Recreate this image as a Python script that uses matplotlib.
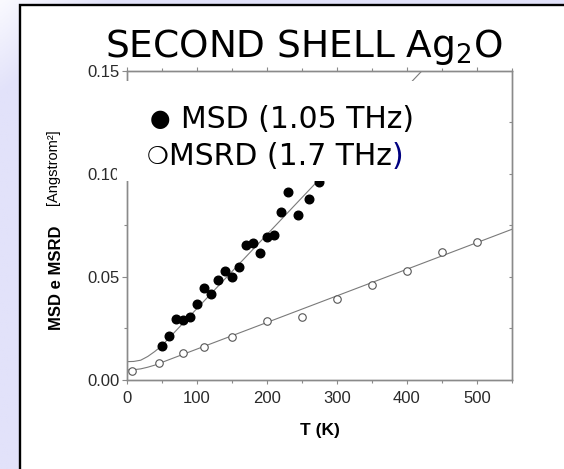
import matplotlib
matplotlib.use("Agg")
import matplotlib.pyplot as plt
import numpy as np
from matplotlib.patches import Rectangle

# ---------------- data ----------------
msd_T = [50, 60, 70, 80, 90, 100, 110, 120, 130, 140, 150, 160, 170, 180, 190,
         200, 210, 220, 230, 245, 260, 275]
msd_v = [0.0165, 0.0213, 0.0294, 0.0291, 0.0304, 0.0367, 0.0445, 0.0416, 0.0483,
         0.0530, 0.0501, 0.0549, 0.0653, 0.0663, 0.0614, 0.0692, 0.0705, 0.0813,
         0.0910, 0.0800, 0.0877, 0.0960]

msrd_T = [8, 46, 80, 110, 150, 200, 250, 300, 350, 400, 450, 500]
msrd_v = [0.0044, 0.0081, 0.0129, 0.0158, 0.0210, 0.0288, 0.0307, 0.0391,
          0.0461, 0.0529, 0.0622, 0.0671]

# fitted curves
msd_fit_T = [0, 10, 20, 30, 40, 50, 60, 430]
msd_fit_v = [0.0089, 0.0090, 0.0096, 0.0114, 0.0138, 0.0166, 0.0202, 0.1530]
msrd_fit_T = [0, 10, 20, 30, 40, 50, 60, 550]
msrd_fit_v = [0.0049, 0.0050, 0.0054, 0.0062, 0.0072, 0.0085, 0.0098, 0.0731]

xticks = [0, 100, 200, 300, 400, 500]
yticks = [0.00, 0.05, 0.10, 0.15]
ytick_labels = ["0.00", "0.05", "0.10", "0.15"]

title = "SECOND SHELL Ag$_2$O"
legend_msd_sym = "\u25cf"
legend_msd = "MSD (1.05 THz)"
legend_msrd_sym = "\u274d"
legend_msrd = "MSRD (1.7 THz"
xlabel = "T (K)"
ylabel_main = "MSD e MSRD"
ylabel_unit = "[Angstrom\u00b2]"

# ---------------- figure ----------------
W, H = 564, 469
fig = plt.figure(figsize=(W / 100, H / 100), dpi=100)


def fx(px):
    return px / W


def fy(py):
    return 1 - py / H


# lavender gradient background
bg = fig.add_axes([0, 0, 1, 1], zorder=-10)
bg.axis("off")
yy, xx = np.mgrid[0:1:200j, 0:1:200j]
t = np.clip((xx + yy) * 5, 0, 1)[..., None]
c0 = np.array([250, 250, 255]) / 255
c1 = np.array([226, 226, 250]) / 255
bg.imshow(c0 * (1 - t) + c1 * t, extent=[0, 1, 0, 1], origin="upper", aspect="auto")

# white slide box with black border
box = Rectangle((fx(19.5), -0.2), 2, fy(5) + 0.2, transform=fig.transFigure,
                facecolor="white", edgecolor="black", linewidth=1.7, zorder=-5)
fig.add_artist(box)

# main axes
x0, x1, ytop, ybot = 126.7, 512, 70.7, 380
ax = fig.add_axes([fx(x0), fy(ybot), (x1 - x0) / W, (ybot - ytop) / H])
ax.set_facecolor("white")

line_col = "#7a7a7a"
ax.plot(msd_fit_T, msd_fit_v, color=line_col, lw=0.8, zorder=2)
ax.plot(msrd_fit_T, msrd_fit_v, color=line_col, lw=0.8, zorder=2)
ax.plot(msd_T, msd_v, "o", color="black", ms=6.2, zorder=3)
ax.plot(msrd_T, msrd_v, "o", mfc="white", mec="#555555", mew=0.8, ms=5.4, zorder=3)

ax.set_xlim(0, 550)
ax.set_ylim(0, 0.15)
ax.set_xticks(xticks)
ax.set_xticks([50, 150, 250, 350, 450, 550], minor=True)
ax.set_yticks(yticks)
ax.set_yticklabels(ytick_labels)
ax.set_yticks([0.025, 0.075, 0.125], minor=True)

tick_font = "Liberation Sans"
for lab in ax.get_xticklabels() + ax.get_yticklabels():
    lab.set_fontfamily(tick_font)
    lab.set_fontsize(12)
    lab.set_color("#2a2a2a")

spine_col = "#8a8a8a"
for s in ax.spines.values():
    s.set_color(spine_col)
    s.set_linewidth(1.0)

ax.tick_params(axis="x", which="major", direction="out", length=3.2, width=0.8,
               color=spine_col, top=True, pad=4.5)
ax.tick_params(axis="x", which="minor", direction="out", length=2.5, width=0.8,
               color=spine_col, top=True)
ax.tick_params(axis="y", which="major", direction="out", length=3.6, width=0.8,
               color=spine_col, right=False, pad=1.2)
ax.tick_params(axis="y", which="minor", direction="out", length=2.0, width=0.8,
               color=spine_col, right=False)

# right-side inward ticks
ax2 = ax.twinx()
ax2.set_ylim(0, 0.15)
ax2.set_yticks([0.025, 0.05, 0.075, 0.10, 0.125])
ax2.set_yticklabels([])
ax2.tick_params(axis="y", direction="in", length=2.5, width=0.8, color=spine_col)
for s in ax2.spines.values():
    s.set_color(spine_col)
    s.set_linewidth(1.0)

# axis labels
fig.text(fx(320), fy(430), xlabel, fontsize=12.5, fontweight="bold",
         family="Liberation Sans", ha="center", va="center")
fig.text(fx(56.5), fy(277.5), ylabel_main, fontsize=12, fontweight="bold",
         family="Liberation Sans", rotation=90, ha="center", va="center")
fig.text(fx(53.3), fy(205), ylabel_unit, fontsize=10.5,
         family="Liberation Sans", rotation=90, ha="center", va="bottom")

# white legend cover box
cover = Rectangle((fx(117), fy(181)), fx(470) - fx(117), fy(81) - fy(181),
                  transform=fig.transFigure, facecolor="white", edgecolor="none",
                  zorder=5)
fig.add_artist(cover)

# title
fig.text(fx(303.5), fy(56.7), title, fontsize=27, family="DejaVu Sans",
         ha="center", va="baseline", zorder=6)

# legend text
fs_leg = 21.5
fig.text(fx(160), fy(125.8), legend_msd_sym, fontsize=17, family="DejaVu Sans",
         ha="center", va="baseline", zorder=6)
fig.text(fx(181), fy(128.3), legend_msd, fontsize=fs_leg, family="DejaVu Sans",
         ha="left", va="baseline", zorder=6)
fig.text(fx(158), fy(164), legend_msrd_sym, fontsize=17.5, family="DejaVu Sans",
         ha="center", va="baseline", zorder=6)
t2 = fig.text(fx(169), fy(165), legend_msrd, fontsize=fs_leg, family="DejaVu Sans",
              ha="left", va="baseline", zorder=6)
fig.canvas.draw()
bb = t2.get_window_extent()
fig.text(bb.x1 / W, fy(165), ")", fontsize=fs_leg, family="DejaVu Sans",
         color="#000080", ha="left", va="baseline", zorder=6)

fig.savefig("out.png", dpi=100)
